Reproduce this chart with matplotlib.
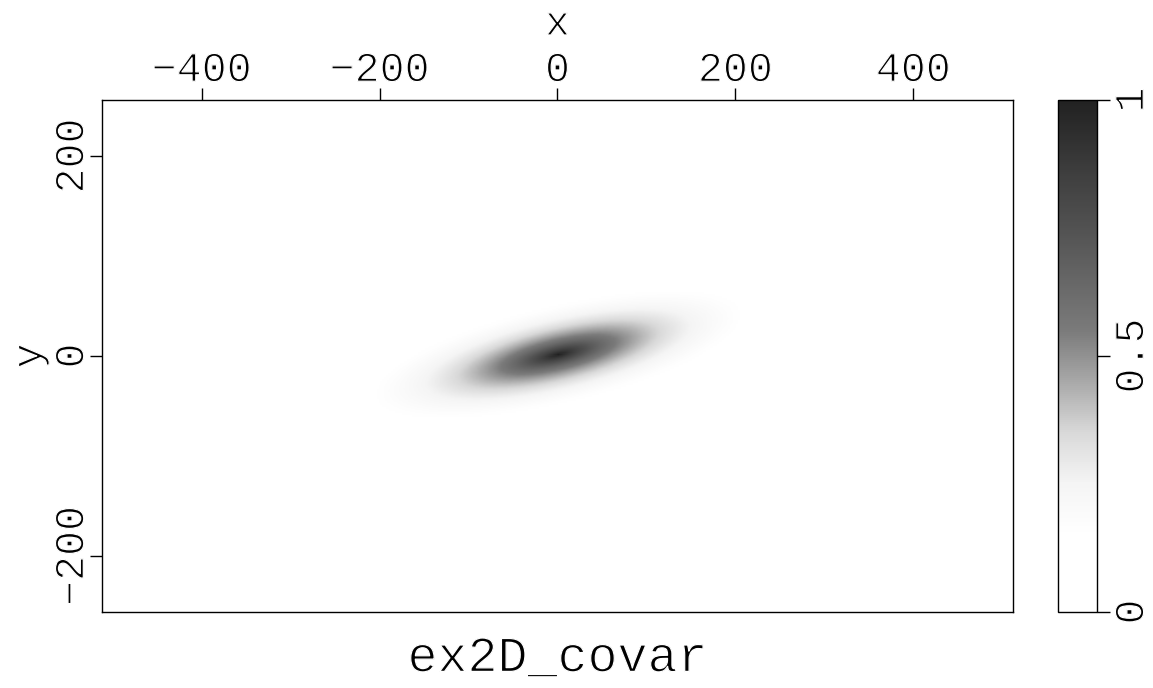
import numpy as np
import matplotlib
matplotlib.use("Agg")
import matplotlib.pyplot as plt
import matplotlib.patheffects as pe
from matplotlib.colors import LinearSegmentedColormap

# grid of the image (sample positions)
x_axis = np.arange(-512, 512, 2.0)
y_axis = np.arange(-256, 256, 2.0)

# correlation lengths and tilt of the covariance
len_major = 110.0
len_minor = 25.0
tilt_deg = 11.5

x_ticks = [-400, -200, 0, 200, 400]
y_ticks = [-200, 0, 200]
cbar_ticks = [0, 0.5, 1]
cbar_labels = ["0", "0.5", "1"]

# grey ramp of the colour bar
cmap_pos = [0.0, 0.15, 0.25, 0.35, 0.45, 0.55, 0.65, 0.75, 0.85, 1.0]
cmap_grey = [1.0, 1.0, 0.96, 0.85, 0.66, 0.48, 0.40, 0.32, 0.25, 0.13]

# thin strokes, like the plotter font
thin = [pe.Normal(), pe.Stroke(linewidth=0.9, foreground="white")]


def covar_image():
    xx, yy = np.meshgrid(x_axis, y_axis)
    t = np.deg2rad(tilt_deg)
    u = xx * np.cos(t) + yy * np.sin(t)
    v = -xx * np.sin(t) + yy * np.cos(t)
    return np.exp(-np.sqrt((u / len_major) ** 2 + (v / len_minor) ** 2))


def main():
    plt.rcParams["font.family"] = ["Liberation Mono", "DejaVu Sans"]
    plt.rcParams["axes.linewidth"] = 1.0

    cmap = LinearSegmentedColormap.from_list(
        "sepgrey", [(p, (g, g, g)) for p, g in zip(cmap_pos, cmap_grey)])

    fig = plt.figure(figsize=(11.53, 6.88), dpi=100)
    ax = fig.add_axes([0.0885, 0.1105, 0.790, 0.7442])
    cax = fig.add_axes([0.9176, 0.1105, 0.0338, 0.7442])

    img = ax.imshow(covar_image(), cmap=cmap, vmin=0, vmax=1, origin="lower",
                    extent=[-512, 512, -256, 256], aspect="auto",
                    interpolation="bilinear")

    ax.xaxis.tick_top()
    ax.xaxis.set_label_position("top")
    ax.set_xticks(x_ticks)
    ax.set_xticklabels(["\u2212" + str(-v) if v < 0 else str(v) for v in x_ticks])
    ax.set_yticks(y_ticks)
    ax.set_yticklabels(["\u2212" + str(-v) if v < 0 else str(v) for v in y_ticks],
                       rotation=90, va="center")
    ax.tick_params(direction="out", length=9, width=1, labelsize=30, pad=-2)
    ax.set_xlabel("x", fontsize=30, labelpad=11, path_effects=thin)
    ax.set_ylabel("y", fontsize=30, labelpad=2, path_effects=thin)

    cb = fig.colorbar(img, cax=cax)
    cb.set_ticks(cbar_ticks)
    cb.set_ticklabels(cbar_labels)
    cb.outline.set_linewidth(1.0)
    cax.tick_params(direction="out", length=9, width=1, labelsize=30, pad=2)
    for lab in cax.get_yticklabels():
        lab.set_rotation(90)
        lab.set_va("center")

    for lab in ax.get_xticklabels() + ax.get_yticklabels() + cax.get_yticklabels():
        lab.set_path_effects(thin)

    fig.text(0.4835, 0.043, "ex2D_covar", fontsize=36, ha="center", va="center",
             path_effects=thin)

    fig.savefig("out.png", dpi=100)


if __name__ == "__main__":
    main()
